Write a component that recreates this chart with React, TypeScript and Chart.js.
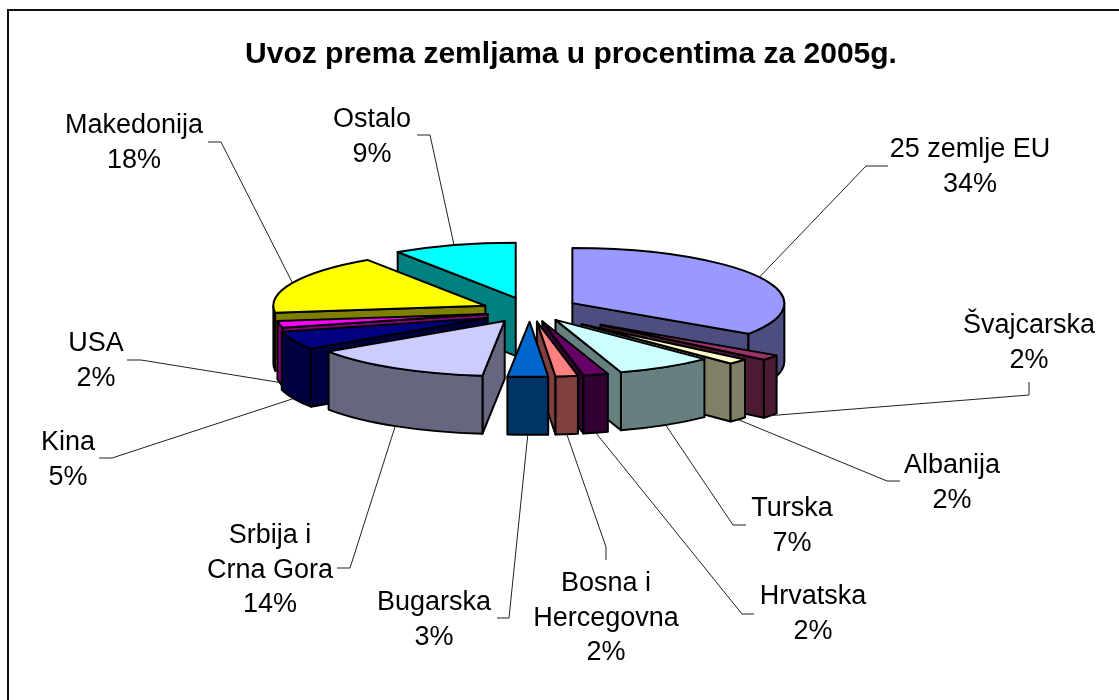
import React, { useEffect, useRef } from "react";
import { Chart, registerables } from "chart.js";

Chart.register(...registerables);

const TITLE = "Uvoz prema zemljama u procentima za 2005g.";
const categories = ["25 zemlje EU", "Švajcarska", "Albanija", "Turska", "Hrvatska", "Bosna i Hercegovna", "Bugarska", "Srbija i Crna Gora", "Kina", "USA", "Makedonija", "Ostalo"];
const shares = [34.4, 1.6, 1.6, 7.4, 1.9, 1.7, 3.07, 13.93, 5.4, 2, 17.6, 9.4];
const colours = ["#9999FF", "#993366", "#FFFFCC", "#CCFFFF", "#660066", "#FF8080", "#0066CC", "#CCCCFF", "#000080", "#FF00FF", "#FFFF00", "#00FFFF"];
const explode = [48, 88, 70, 49, 49, 49, 49, 49, 47, 43, 49, 49];
const sag = [0, 2, 3, 0, 0, 0, 0, 1, 4, 3, 2, 1];
const labelLines = [["25 zemlje EU"], ["Švajcarska"], ["Albanija"], ["Turska"], ["Hrvatska"], ["Bosna i", "Hercegovna"], ["Bugarska"], ["Srbija i", "Crna Gora"], ["Kina"], ["USA"], ["Makedonija"], ["Ostalo"]];
// label centre x, first-line centre y
const labelPos = [[970, 150], [1029, 326], [952, 466], [792, 509], [813, 597], [606, 584], [434, 603], [270, 536], [68, 443], [96, 344], [134, 126], [372, 120]];
// leader stub: outer point then elbow
const stubs = [[[888, 166], [866, 166]], [[1029, 382], [1029, 395]], [[900, 481], [887, 481]], [[746, 525], [733, 525]], [[754, 614], [742, 614]], [[606, 560], [606, 547]], [[497, 618], [509, 618]], [[337, 568], [350, 568]], [[99, 458], [112, 458]], [[127, 360], [141, 360]], [[208, 142], [221, 142]], [[417, 135], [430, 135]]];
const paintOrder = [11, 0, 10, 9, 8, 1, 2, 3, 7, 4, 5, 6];

const K = 0.26;
const DEPTH = 58;
const FONT = '"Liberation Sans", Arial, sans-serif';

function darken(hex: string) {
  const n = parseInt(hex.slice(1), 16);
  const c = (s: number) => Math.round(((n >> s) & 255) * 0.5);
  return `rgb(${c(16)},${c(8)},${c(0)})`;
}

const pie3d = {
  id: "pie3d",
  beforeDraw(chart: any) {
    const { ctx, width, height } = chart;
    ctx.save();
    ctx.fillStyle = "#fff";
    ctx.fillRect(0, 0, width, height);
    ctx.strokeStyle = "#111";
    ctx.lineWidth = 2;
    ctx.beginPath();
    ctx.moveTo(8, height);
    ctx.lineTo(8, 10);
    ctx.lineTo(width, 10);
    ctx.stroke();
    ctx.restore();
  },
  beforeDatasetDraw(chart: any) {
    const { ctx } = chart;
    const arcs = chart.getDatasetMeta(0).data;
    const geo = (i: number) => {
      const a = arcs[i];
      const mid = (a.startAngle + a.endAngle) / 2;
      return {
        a,
        mid,
        ax: a.x + Math.cos(mid) * explode[i],
        ay: a.y + Math.sin(mid) * explode[i] * K + sag[i],
        r: a.outerRadius,
      };
    };
    ctx.save();
    ctx.lineJoin = "round";
    paintOrder.forEach((i) => {
      const { a, ax, ay, r } = geo(i);
      const pt = (t: number) => [ax + Math.cos(t) * r, ay + Math.sin(t) * r * K];
      const wall = darken(colours[i]);
      ctx.lineWidth = 2;
      ctx.strokeStyle = "#000";
      ctx.fillStyle = wall;
      const radial = (t: number) => {
        const [x, y] = pt(t);
        ctx.beginPath();
        ctx.moveTo(ax, ay);
        ctx.lineTo(x, y);
        ctx.lineTo(x, y + DEPTH);
        ctx.lineTo(ax, ay + DEPTH);
        ctx.closePath();
        ctx.fill();
        ctx.stroke();
      };
      if (Math.cos(a.startAngle) < -1e-6) radial(a.startAngle);
      if (Math.cos(a.endAngle) > 1e-6) radial(a.endAngle);
      // outer wall: the front-facing part of the rim
      const ranges = [[0, Math.PI], [2 * Math.PI, 3 * Math.PI], [-2 * Math.PI, -Math.PI]];
      ranges.forEach(([lo, hi]) => {
        const s = Math.max(a.startAngle, lo);
        const e = Math.min(a.endAngle, hi);
        if (e <= s) return;
        ctx.beginPath();
        ctx.ellipse(ax, ay, r, r * K, 0, s, e);
        ctx.ellipse(ax, ay + DEPTH, r, r * K, 0, e, s, true);
        ctx.closePath();
        ctx.fill();
        ctx.stroke();
      });
      // top face, filled by the library's own arc element
      ctx.save();
      ctx.translate(ax, ay);
      ctx.scale(1, K);
      ctx.translate(-a.x, -a.y);
      a.draw(ctx);
      ctx.restore();
      ctx.beginPath();
      ctx.moveTo(ax, ay);
      ctx.ellipse(ax, ay, r, r * K, 0, a.startAngle, a.endAngle);
      ctx.closePath();
      ctx.stroke();
    });
    // leader lines
    ctx.lineWidth = 1;
    ctx.strokeStyle = "#222";
    arcs.forEach((_: any, i: number) => {
      const { mid, ax, ay, r } = geo(i);
      const x = ax + Math.cos(mid) * r;
      const y = ay + Math.sin(mid) * r * K + (Math.sin(mid) > 0 ? DEPTH : 0);
      ctx.beginPath();
      ctx.moveTo(stubs[i][0][0], stubs[i][0][1]);
      ctx.lineTo(stubs[i][1][0], stubs[i][1][1]);
      ctx.lineTo(x, y);
      ctx.stroke();
    });
    // data labels and title
    const total = shares.reduce((p, v) => p + v, 0);
    ctx.fillStyle = "#000";
    ctx.textAlign = "center";
    ctx.textBaseline = "middle";
    ctx.font = `27px ${FONT}`;
    labelLines.forEach((lines, i) => {
      const [x, y] = labelPos[i];
      [...lines, `${Math.round((shares[i] / total) * 100)}%`].forEach((t, j) => ctx.fillText(t, x, y + j * 34.4));
    });
    ctx.font = `bold 30px ${FONT}`;
    ctx.fillText(TITLE, 571, 55);
    ctx.restore();
    return false;
  },
};

export default function App() {
  const ref = useRef<HTMLCanvasElement>(null);
  useEffect(() => {
    const chart = new Chart(ref.current as HTMLCanvasElement, {
      type: "pie",
      data: {
        labels: categories,
        datasets: [{ data: shares, backgroundColor: colours, borderWidth: 0, radius: 212 }],
      },
      options: {
        responsive: false,
        animation: false,
        layout: { padding: { left: 0, right: 59, top: 0, bottom: 82 } },
        plugins: { legend: { display: false }, tooltip: { enabled: false }, title: { display: false } },
      },
      plugins: [pie3d],
    } as any);
    return () => chart.destroy();
  }, []);
  return (
    <div style={{ position: "absolute", left: 0, top: 0, width: 1119, height: 700 }}>
      <canvas ref={ref} width={1119} height={700} style={{ display: "block" }} />
    </div>
  );
}
